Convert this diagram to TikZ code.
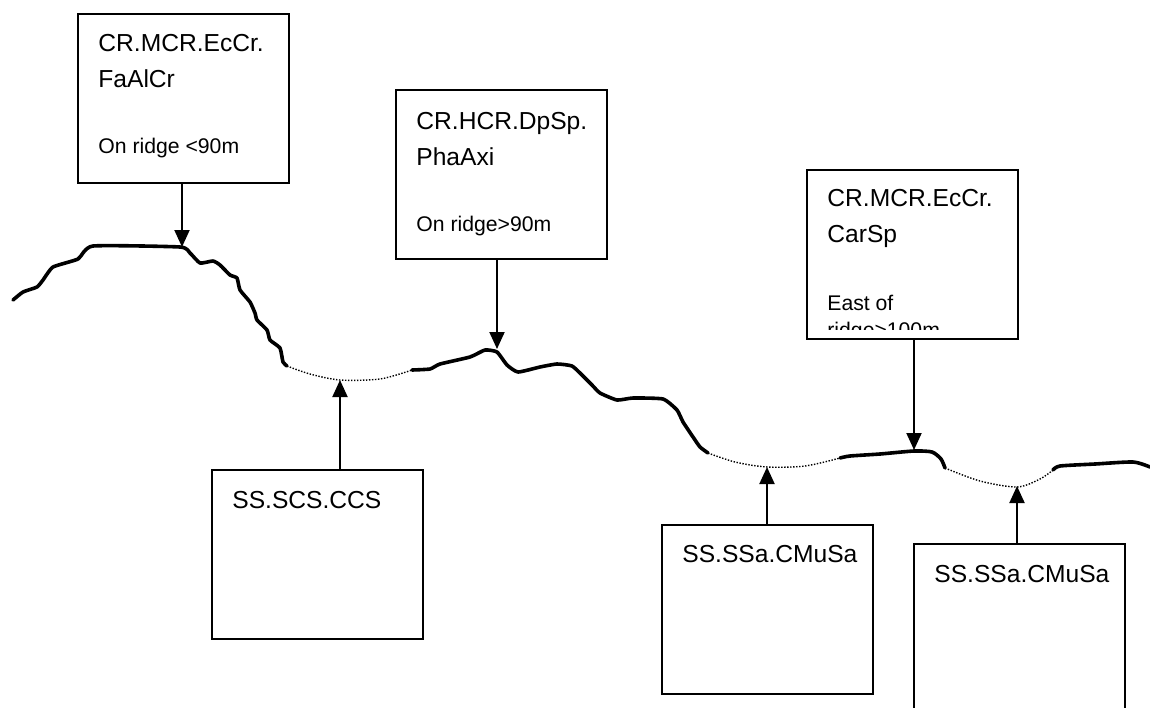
\documentclass[tikz,border=0pt]{standalone}
\usepackage{fontspec}
\setmainfont{Liberation Sans}
\usetikzlibrary{arrows.meta}
\tikzset{
  biotope/.style={draw, line width=1pt, anchor=north west, minimum width=105.5pt, minimum height=84.5pt, inner sep=0pt},
  code/.style={anchor=base west, inner sep=0pt, align=left, font=\fontsize{12.3}{18}\selectfont},
  note/.style={anchor=base west, inner sep=0pt, align=left, font=\fontsize{10.6}{13.5}\selectfont},
  pointer/.style={line width=1pt, -{Triangle[length=8.5pt,width=7.5pt]}},
  rock/.style={line width=1.8pt, line join=round, line cap=round},
  sediment/.style={line width=0.7pt, dash pattern=on 0.7pt off 0.8pt},
}
\begin{document}
\begin{tikzpicture}[x=0.5pt, y=-0.5pt]
  \useasboundingbox (0,0) rectangle (1150,707);
  % ridge profile: rock in solid, sediment pockets dotted
  \draw[rock] plot[smooth, tension=0.3] coordinates {(13,300) (23,292) (37,287) (43,280) (53,267) (78,259) (93,246) (180,247) (190,253) (200,263) (213,261) (220,265) (230,275) (237,278) (240,290) (250,302) (255,313) (257,320) (267,330) (270,340) (280,348) (283,362) (287,366)};
  \draw[sediment] plot[smooth] coordinates {(287,366) (310,374) (340,380) (380,379) (412,370)};
  \draw[rock] plot[smooth, tension=0.3] coordinates {(412,370) (430,369) (440,364) (470,357) (485,350) (497,352) (507,365) (518,372) (540,367) (557,364) (572,366) (582,375) (592,385) (600,393) (617,400) (633,398) (663,399) (677,410) (683,422) (693,437) (700,447) (708,453)};
  \draw[sediment] plot[smooth] coordinates {(708,453) (735,462) (767,467) (805,466) (840,458)};
  \draw[rock] plot[smooth, tension=0.4] coordinates {(840,458) (850,456) (880,454) (914,451) (932,452) (941,459) (945,468)};
  \draw[sediment] plot[smooth] coordinates {(945,468) (980,481) (1017,487) (1040,479) (1053,470)};
  \draw[rock] plot[smooth, tension=0.4] coordinates {(1053,470) (1060,466) (1095,464) (1133,462) (1150,467)};
  % arrow targets on the profile
  \coordinate (r1) at (182,247);
  \coordinate (r2) at (497,349);
  \coordinate (r3) at (914,450);
  \coordinate (r4) at (340,380);
  \coordinate (r5) at (767,467);
  \coordinate (r6) at (1017,486);
  % rock biotopes above (base anchor = last line)
  \node[biotope] (b1) at (77,13) {};
  \node[code] (h1) at ([shift={(21,74)}]b1.north west) {CR.MCR.EcCr.\\FaAlCr};
  \node[note] (n1) at ([shift={(21,140)}]b1.north west) {On ridge <90m};
  \node[biotope] (b2) at (395,89) {};
  \node[code] (h2) at ([shift={(21,76)}]b2.north west) {CR.HCR.DpSp.\\PhaAxi};
  \node[note] (n2) at ([shift={(21,142)}]b2.north west) {On ridge>90m};
  \node[biotope] (b3) at (806,169) {};
  \node[code] (h3) at ([shift={(21,73)}]b3.north west) {CR.MCR.EcCr.\\CarSp};
  \begin{scope}
    \clip (b3.north west) rectangle ([yshift=5.5pt]b3.south east);
    \node[note] (n3) at ([shift={(21,168)}]b3.north west) {East of\\ridge>100m};
  \end{scope}
  % sediment biotopes below
  \node[biotope] (b4) at (211,469) {};
  \node[code] (h4) at ([shift={(21,39)}]b4.north west) {SS.SCS.CCS};
  \node[biotope] (b5) at (661,524) {};
  \node[code] (h5) at ([shift={(21,38)}]b5.north west) {SS.SSa.CMuSa};
  \node[biotope] (b6) at (913,543) {};
  \node[code] (h6) at ([shift={(21,39)}]b6.north west) {SS.SSa.CMuSa};
  % pointers
  \draw[pointer] (b1.south -| r1) -- (r1);
  \draw[pointer] (b2.south -| r2) -- (r2);
  \draw[pointer] (b3.south -| r3) -- (r3);
  \draw[pointer] (b4.north -| r4) -- (r4);
  \draw[pointer] (b5.north -| r5) -- (r5);
  \draw[pointer] (b6.north -| r6) -- (r6);
\end{tikzpicture}
\end{document}
